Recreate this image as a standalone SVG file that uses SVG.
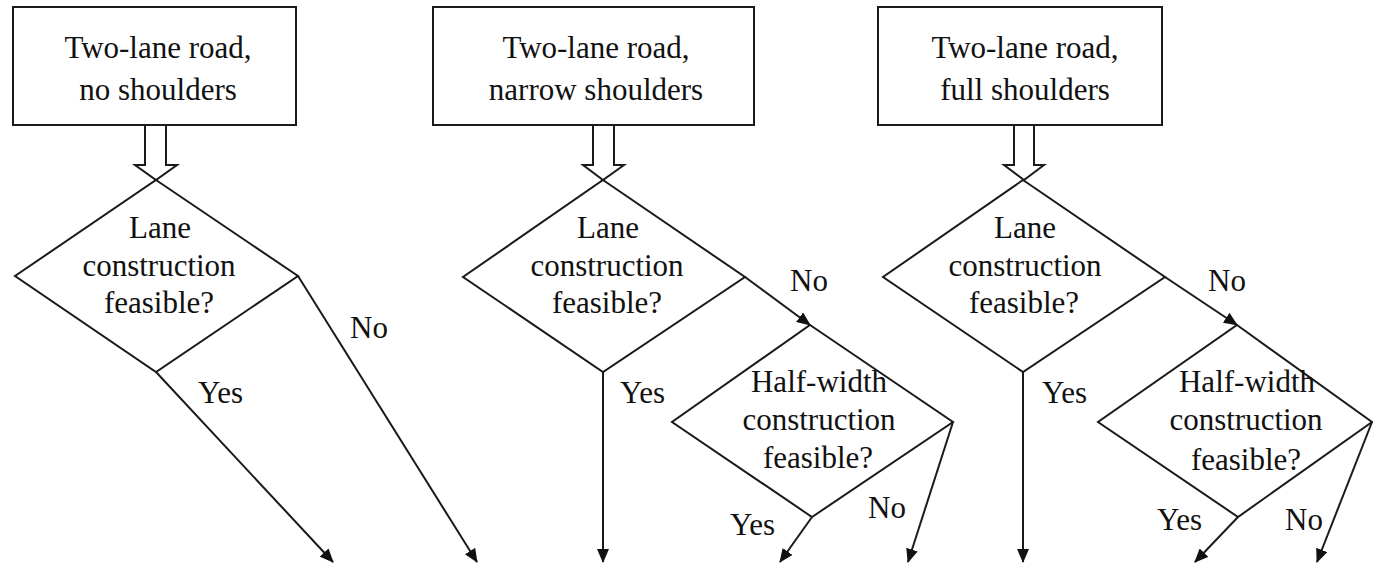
<svg xmlns="http://www.w3.org/2000/svg" width="1373" height="563" viewBox="0 0 1373 563">
<style>
.box{fill:#fff;stroke:#1a1a1a;stroke-width:2}
.dia{fill:none;stroke:#1a1a1a;stroke-width:2}
.hol{fill:none;stroke:#1a1a1a;stroke-width:2;stroke-linejoin:miter}
.ln{fill:none;stroke:#1a1a1a;stroke-width:2;marker-end:url(#ah)}
.c{text-anchor:middle}
</style>
<defs>
<marker id="ah" markerUnits="userSpaceOnUse" markerWidth="14" markerHeight="12" refX="13" refY="6" orient="auto">
<path d="M0,0 L14,6 L0,12 z" fill="#111"/>
</marker>
</defs>
<rect width="1373" height="563" fill="#fff"/>

<g font-family="Liberation Serif, Times New Roman, Noto Serif, DejaVu Serif, serif" font-size="31" fill="#111">
<g id="box1">
<rect class="box" x="13" y="7" width="283" height="118"/>
<text class="c" x="158" y="58">Two-lane road,</text>
<text class="c" x="158" y="100">no shoulders</text>
</g>
<g id="box2">
<rect class="box" x="433" y="7" width="321" height="118"/>
<text class="c" x="596" y="58">Two-lane road,</text>
<text class="c" x="596" y="100">narrow shoulders</text>
</g>
<g id="box3">
<rect class="box" x="878" y="7" width="284" height="118"/>
<text class="c" x="1025" y="58">Two-lane road,</text>
<text class="c" x="1025" y="100">full shoulders</text>
</g>

<g id="dec1">
<polygon class="dia" points="156,180 298,276 156,372 15,276"/>
<text class="c" x="160" y="238">Lane</text>
<text class="c" x="159" y="276">construction</text>
<text class="c" x="159" y="313">feasible?</text>
</g>
<g id="dec2">
<polygon class="dia" points="603,180 745,277 603,372 463,277"/>
<text class="c" x="608" y="238">Lane</text>
<text class="c" x="607" y="276">construction</text>
<text class="c" x="607" y="313">feasible?</text>
</g>
<g id="dec3">
<polygon class="dia" points="1023,180 1165,277 1023,372 883,277"/>
<text class="c" x="1025" y="238">Lane</text>
<text class="c" x="1025" y="276">construction</text>
<text class="c" x="1024" y="313">feasible?</text>
</g>
<g id="half2">
<polygon class="dia" points="810,325 953,422 812,517 672,422"/>
<text class="c" x="819" y="392">Half-width</text>
<text class="c" x="819" y="430">construction</text>
<text class="c" x="818" y="468">feasible?</text>
</g>
<g id="half3">
<polygon class="dia" points="1237,325 1372,422 1238,517 1098,422"/>
<text class="c" x="1247" y="392">Half-width</text>
<text class="c" x="1246" y="430">construction</text>
<text class="c" x="1246" y="470">feasible?</text>
</g>

<g id="labels">
<text x="198" y="403">Yes</text>
<text x="350" y="338">No</text>
<text x="620" y="403">Yes</text>
<text x="790" y="291">No</text>
<text x="730" y="535">Yes</text>
<text x="868" y="518">No</text>
<text x="1042" y="403">Yes</text>
<text x="1208" y="291">No</text>
<text x="1157" y="530">Yes</text>
<text x="1285" y="530">No</text>
</g>
</g>

<g id="connectors">
<path class="hol" d="M145,125 V165 H135 L156,180 L177,165 H166 V125"/>
<path class="hol" d="M593,125 V165 H583 L603,180 L624,165 H614 V125"/>
<path class="hol" d="M1014,125 V165 H1004 L1024,180 L1044,165 H1034 V125"/>

<line class="ln" x1="156" y1="372" x2="333" y2="562"/>
<line class="ln" x1="298" y1="276" x2="477" y2="562"/>
<line class="ln" x1="603" y1="372" x2="603" y2="562"/>
<line class="ln" x1="745" y1="277" x2="810" y2="325"/>
<line class="ln" x1="812" y1="517" x2="780" y2="562"/>
<line class="ln" x1="953" y1="422" x2="908" y2="562"/>
<line class="ln" x1="1023" y1="372" x2="1023" y2="562"/>
<line class="ln" x1="1165" y1="277" x2="1237" y2="325"/>
<line class="ln" x1="1238" y1="517" x2="1195" y2="562"/>
<line class="ln" x1="1372" y1="422" x2="1317" y2="562"/>
</g>
</svg>
